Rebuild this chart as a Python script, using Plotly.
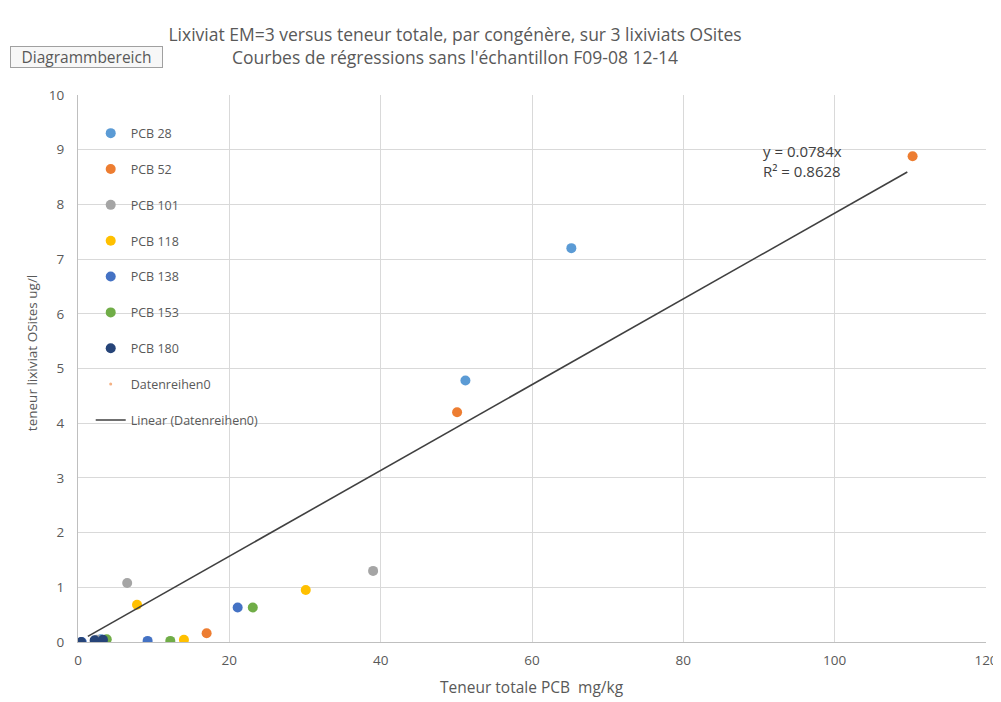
import plotly.graph_objects as go

# ---- data ----
series_names = ["PCB 28", "PCB 52", "PCB 101", "PCB 118", "PCB 138", "PCB 153", "PCB 180"]
pcb28_x = [65.2, 51.2, 3.0]
pcb28_y = [7.20, 4.78, 0.05]
pcb52_x = [110.3, 50.1, 17.0]
pcb52_y = [8.88, 4.20, 0.16]
pcb101_x = [39.0, 6.5, 2.5]
pcb101_y = [1.30, 1.08, 0.04]
pcb118_x = [30.1, 7.8, 14.0]
pcb118_y = [0.95, 0.68, 0.04]
pcb138_x = [21.1, 9.2, 0.5]
pcb138_y = [0.63, 0.02, 0.00]
pcb153_x = [23.1, 12.2, 3.8]
pcb153_y = [0.63, 0.02, 0.05]
pcb180_x = [0.4, 2.2, 3.3]
pcb180_y = [0.00, 0.03, 0.04]

trend_slope = 0.0784
trend_r2 = 0.8628

colors = ["#5B9BD5", "#ED7D31", "#A5A5A5", "#FFC000", "#4472C4", "#70AD47", "#264478"]

xs = [pcb28_x, pcb52_x, pcb101_x, pcb118_x, pcb138_x, pcb153_x, pcb180_x]
ys = [pcb28_y, pcb52_y, pcb101_y, pcb118_y, pcb138_y, pcb153_y, pcb180_y]

FONT = "Open Sans, Lato, sans-serif"
GREY = "#595959"

fig = go.Figure()

all_x = [v for s in xs for v in s]
all_y = [v for s in ys for v in s]
# combined series (drawn underneath), used for the trendline
fig.add_trace(go.Scatter(
    x=all_x, y=all_y, mode="markers", name="Datenreihen0", legendgroup="d0",
    legendrank=1008, marker=dict(color="#F4B183", size=3),
))

for i, name in enumerate(series_names):
    fig.add_trace(go.Scatter(
        x=xs[i], y=ys[i], mode="markers", name=name, legendgroup=name,
        legendrank=1000 + i,
        marker=dict(color=colors[i], size=10, line=dict(width=0)),
    ))

x_lo, x_hi = 1.3, max(all_x) - 0.7
fig.add_trace(go.Scatter(
    x=[x_lo, x_hi], y=[trend_slope * x_lo, trend_slope * x_hi], mode="lines",
    name="Linear (Datenreihen0)", legendgroup="lin", legendrank=1009,
    line=dict(color="#404040", width=1.6),
))

fig.update_layout(
    width=1001, height=702,
    paper_bgcolor="white", plot_bgcolor="white",
    margin=dict(l=70, r=23, t=87, b=68),
    font=dict(family=FONT, color=GREY, size=13),
    title=dict(
        text="Lixiviat EM=3 versus teneur totale, par congénère, sur 3 lixiviats OSites<br>"
             "Courbes de régressions sans l'échantillon F09-08 12-14",
        x=0.4466, xanchor="center", y=0.953, yanchor="top",
        font=dict(family=FONT, size=17.5, color=GREY),
    ),
    legend=dict(
        x=0.014, y=0.957, xanchor="left", yanchor="top",
        bgcolor="rgba(255,255,255,0)", font=dict(size=12.5, color=GREY, family=FONT),
        traceorder="grouped", tracegroupgap=16.6, itemwidth=30,
    ),
    xaxis=dict(
        range=[0, 120], dtick=20, showgrid=True, gridcolor="#D9D9D9",
        zeroline=False, showline=True, linecolor="#BFBFBF", ticks="",
        tickfont=dict(size=13.5, color=GREY), automargin=False, ticklabelstandoff=6,
    ),
    yaxis=dict(
        range=[0, 10], dtick=1, showgrid=True, gridcolor="#D9D9D9",
        zeroline=False, showline=True, linecolor="#BFBFBF", ticks="",
        tickfont=dict(size=13.5, color=GREY), automargin=False, ticklabelstandoff=10,
    ),
    annotations=[
        dict(text="Teneur totale PCB  mg/kg", x=0.5, y=-0.0822, xref="paper", yref="paper",
             showarrow=False, xanchor="center", yanchor="middle",
             font=dict(size=15.5, color=GREY, family=FONT)),
        dict(text="teneur lixiviat OSites ug/l", x=-0.0507, y=0.528, xref="paper", yref="paper",
             textangle=-90, showarrow=False, xanchor="center", yanchor="middle",
             font=dict(size=13.5, color=GREY, family=FONT)),
        dict(text=f"y = {trend_slope}x<br>R² = {trend_r2}", x=95.7, y=8.8,
             xref="x", yref="y", showarrow=False, align="left",
             font=dict(size=15, color="#404040", family=FONT)),
        dict(text="Diagrammbereich", x=-0.0749, y=1.0695, xref="paper", yref="paper",
             xanchor="left", yanchor="middle", showarrow=False, width=151, height=20,
             bordercolor="#A0A0A0", borderwidth=1, borderpad=0, bgcolor="#F7F7F7",
             font=dict(size=15.5, color=GREY, family=FONT)),
    ],
)

fig.write_html("out.html")
